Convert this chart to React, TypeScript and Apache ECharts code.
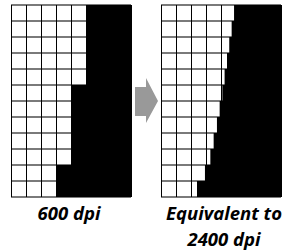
import React, { useEffect, useRef } from "react";
import * as echarts from "echarts";

const rows = ["r1", "r2", "r3", "r4", "r5", "r6", "r7", "r8", "r9", "r10", "r11", "r12"];
const columnsCount = 8;
// white extent of each row (in cells), left: 600 dpi
const leftWhite = [5, 5, 5, 5, 5, 4, 4, 4, 4, 4, 3, 3];
// white extent of each row, right: equivalent to 2400 dpi
const rightWhite = [4.87, 4.71, 4.55, 4.4, 4.24, 4.09, 3.91, 3.73, 3.51, 3.29, 2.93, 2.4];
const captions = ["600 dpi", "Equivalent to\n2400 dpi"];

export default function App() {
  const ref = useRef<HTMLDivElement>(null);
  useEffect(() => {
    if (!ref.current) return;
    const chart = echarts.init(ref.current, null, { renderer: "svg" });
    const grids = [
      { left: 11, top: 5, width: 120, height: 192 },
      { left: 161, top: 5, width: 120, height: 192 },
    ];
    const xAxes = grids.map((_, i) => ({
      type: "value" as const,
      gridIndex: i,
      min: 0,
      max: columnsCount,
      interval: 1,
      axisLabel: { show: false },
      axisTick: { show: false },
      axisLine: { show: false },
      splitLine: { show: true, lineStyle: { color: "#000", width: 1 } },
    }));
    const yAxes = grids.map((_, i) => ({
      type: "category" as const,
      gridIndex: i,
      data: rows,
      inverse: true,
      axisLabel: { show: false },
      axisTick: { show: false },
      axisLine: { show: false },
      splitLine: { show: true, interval: 0, lineStyle: { color: "#7a7a7a", width: 2 } },
    }));
    const makeSeries = (white: number[], idx: number) => [
      {
        type: "bar" as const,
        xAxisIndex: idx,
        yAxisIndex: idx,
        stack: "s" + idx,
        data: white,
        barWidth: "100%",
        barCategoryGap: 0,
        itemStyle: { color: "rgba(0,0,0,0)" },
        silent: true,
      },
      {
        type: "bar" as const,
        xAxisIndex: idx,
        yAxisIndex: idx,
        stack: "s" + idx,
        data: white.map((w) => columnsCount - w),
        barWidth: "100%",
        barCategoryGap: 0,
        itemStyle: { color: "#000" },
        silent: true,
      },
    ];
    const font = {
      fontFamily: "Open Sans",
      fontStyle: "italic" as const,
      fontWeight: "bold" as const,
      fontSize: 18.5,
      fill: "#000",
    };
    chart.setOption({
      animation: false,
      grid: grids,
      xAxis: xAxes,
      yAxis: yAxes,
      series: [...makeSeries(leftWhite, 0), ...makeSeries(rightWhite, 1)],
      graphic: [
        {
          type: "polygon",
          shape: {
            points: [
              [135, 87],
              [146, 87],
              [146, 78],
              [158, 101],
              [146, 123],
              [146, 116],
              [135, 116],
            ],
          },
          style: { fill: "#999999" },
        },
        {
          type: "text",
          x: 69,
          y: 199,
          style: { ...font, text: captions[0], textAlign: "center", textVerticalAlign: "top", lineHeight: 26 },
        },
        {
          type: "text",
          x: 224,
          y: 199,
          style: { ...font, text: captions[1], textAlign: "center", textVerticalAlign: "top", lineHeight: 26 },
        },
      ],
    });
    return () => chart.dispose();
  }, []);
  return (
    <div
      ref={ref}
      style={{ position: "fixed", left: 0, top: 0, width: 287, height: 251, background: "#fff" }}
    />
  );
}
